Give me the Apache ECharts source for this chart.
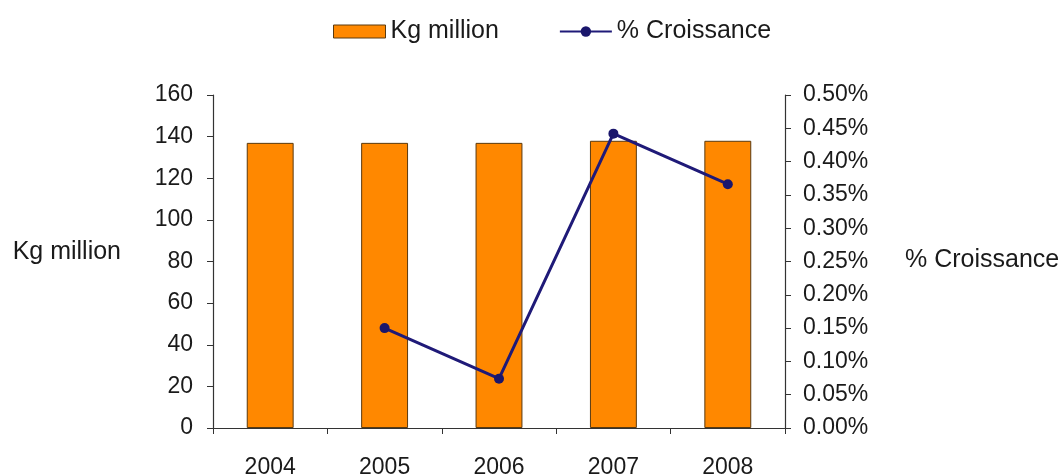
<!DOCTYPE html>
<html>
<head>
<meta charset="utf-8">
<script src="https://cdn.jsdelivr.net/npm/echarts@6/dist/echarts.min.js"></script>
<style>
  html, body { margin: 0; padding: 0; background: #fff; }
  #chart { width: 1063px; height: 476px; }
</style>
</head>
<body>
<div id="chart"></div>
<script>
// Annual volume (kg million) and year-on-year growth (%)
const years = ['2004', '2005', '2006', '2007', '2008'];
const volumeKg = [137, 137, 137, 138, 138];
const growthPct = [null, 0.150, 0.074, 0.442, 0.366];
const leftTicks = { min: 0, max: 160, interval: 20 };
const rightTicks = { min: 0, max: 0.5, interval: 0.05 };

const FONT = '"Liberation Sans", Arial, sans-serif';
const TEXT = '#1a1a1a';
const AXIS = '#333333';
const TICK_SIZE = 23;
const NAME_SIZE = 25;

const chart = echarts.init(document.getElementById('chart'), null, { renderer: 'canvas' });
chart.setOption({
  animation: false,
  textStyle: { fontFamily: FONT, color: TEXT },
  legend: {
    top: 14,
    left: 328,
    itemWidth: 52,
    itemHeight: 13,
    itemGap: 60,
    textStyle: { fontSize: NAME_SIZE, color: TEXT, fontFamily: FONT },
    data: [
      { name: 'Kg million', icon: 'rect', itemStyle: { color: '#ff8800', borderColor: '#5a3a10', borderWidth: 1 } },
      { name: '% Croissance' }
    ]
  },
  graphic: [
    {
      type: 'text', right: 1063 - 121, top: 240,
      style: { text: 'Kg million', font: NAME_SIZE + 'px ' + FONT, fill: TEXT }
    },
    {
      type: 'text', left: 905, top: 248,
      style: { text: '% Croissance', font: NAME_SIZE + 'px ' + FONT, fill: TEXT }
    }
  ],
  grid: { left: 213, right: 278, top: 95, bottom: 48, containLabel: false, outerBoundsMode: 'none' },
  xAxis: {
    type: 'category',
    data: years,
    boundaryGap: true,
    axisLine: { lineStyle: { color: AXIS, width: 1.2 } },
    axisTick: { show: true, length: 6, lineStyle: { color: AXIS } },
    axisLabel: { margin: 28, fontSize: TICK_SIZE, color: TEXT, fontFamily: FONT }
  },
  yAxis: [
    {
      type: 'value',
      position: 'left',
      min: leftTicks.min, max: leftTicks.max, interval: leftTicks.interval,
      axisLine: { show: true, lineStyle: { color: AXIS, width: 1.2 } },
      axisTick: { show: true, length: 6, lineStyle: { color: AXIS } },
      splitLine: { show: false },
      axisLabel: { margin: 20, fontSize: TICK_SIZE, color: TEXT, fontFamily: FONT }
    },
    {
      type: 'value',
      position: 'right',
      min: rightTicks.min, max: rightTicks.max, interval: rightTicks.interval,
      axisLine: { show: true, lineStyle: { color: AXIS, width: 1.2 } },
      axisTick: { show: true, length: 6, lineStyle: { color: AXIS } },
      splitLine: { show: false },
      axisLabel: {
        margin: 18, fontSize: TICK_SIZE, color: TEXT, fontFamily: FONT,
        formatter: v => v.toFixed(2) + '%'
      }
    }
  ],
  series: [
    {
      name: 'Kg million',
      type: 'bar',
      yAxisIndex: 0,
      data: volumeKg,
      barWidth: '41%',
      itemStyle: { color: '#ff8800', borderColor: '#5a3a10', borderWidth: 1 }
    },
    {
      name: '% Croissance',
      type: 'line',
      yAxisIndex: 1,
      data: growthPct,
      connectNulls: false,
      symbol: 'circle',
      symbolSize: 10,
      lineStyle: { color: '#1f1a78', width: 3 },
      itemStyle: { color: '#1a166c' }
    }
  ]
});
</script>
</body>
</html>
